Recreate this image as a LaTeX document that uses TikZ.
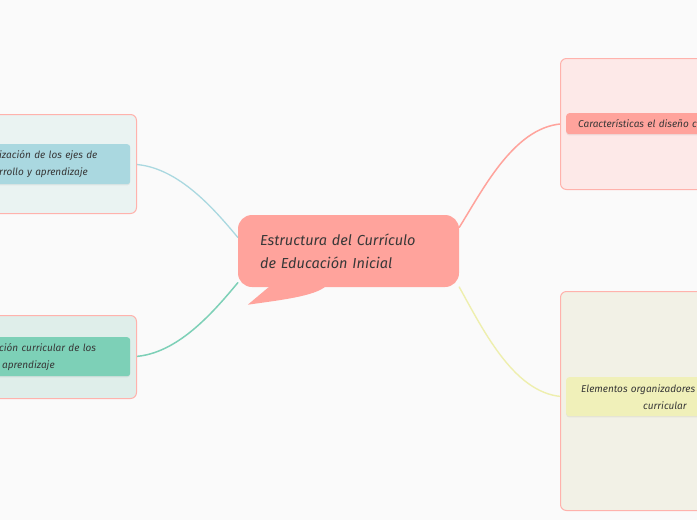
\documentclass[tikz,border=0pt]{standalone}
\usepackage{fontspec}
\setmainfont{Fira Sans}
\usetikzlibrary{calc,shadows}
\definecolor{bgcol}{HTML}{FAFAFA}
\definecolor{frame}{HTML}{FFB2AC}
\definecolor{tlfill}{HTML}{EAF3F2}
\definecolor{blfill}{HTML}{DFEEEA}
\definecolor{trfill}{HTML}{FDE9E8}
\definecolor{brfill}{HTML}{F2F1E6}
\definecolor{bluenode}{HTML}{AAD8E0}
\definecolor{greennode}{HTML}{7DD0B7}
\definecolor{salmon}{HTML}{FFA39C}
\definecolor{yellownode}{HTML}{F0F0B9}
\definecolor{yellowline}{HTML}{EEEFAE}
\definecolor{txt}{HTML}{383838}
\pgfdeclarelayer{bglayer}
\pgfdeclarelayer{connlayer}
\pgfsetlayers{bglayer,connlayer,main}
\begin{document}
\begin{tikzpicture}[x=1pt,y=-1pt,
  outerbox/.style={draw=frame, line width=1pt, rounded corners=6pt, inner sep=0pt, anchor=north west},
  topicbox/.style={rounded corners=3pt, anchor=north west, align=left, text=txt,
     inner ysep=2pt, font=\itshape\fontsize{10}{17}\selectfont,
     drop shadow={opacity=0.12, shadow xshift=0pt, shadow yshift=-1.2pt}},
  centerbox/.style={fill=salmon, rounded corners=14pt, text=txt, align=left,
     minimum width=221pt, minimum height=72pt, text width=177pt, inner xsep=22pt,
     font=\itshape\fontsize{14.5}{23}\selectfont},
  link/.style={line cap=round}
]
\begin{pgfonlayer}{bglayer}
\fill[bgcol] (0,0) rectangle (697,520);
\end{pgfonlayer}
\useasboundingbox (0,0) rectangle (697,520);
\clip (0,0) rectangle (697,520);

% outer frames
\node[outerbox, fill=tlfill, minimum width=146pt, minimum height=99pt] (tlo) at (-10,114) {};
\node[outerbox, fill=blfill, minimum width=146pt, minimum height=83pt] (blo) at (-10,315) {};
\node[outerbox, fill=trfill, minimum width=150pt, minimum height=131pt] (tro) at (560,58) {};
\node[outerbox, fill=brfill, minimum width=150pt, minimum height=219pt] (bro) at (560,291) {};

% topic nodes
\node[topicbox, fill=bluenode, text width=121pt, inner xsep=10pt, minimum height=40pt] (tli) at (-11,144)
  {ización de los ejes de\\rrollo y aprendizaje};
\node[topicbox, fill=greennode, text width=121pt, inner xsep=10pt, minimum height=39pt] (bli) at (-11,337)
  {ción curricular de los\\\hspace*{3pt}aprendizaje};
\node[topicbox, fill=salmon, text width=200pt, inner xsep=12pt, minimum height=21pt, inner ysep=1pt,
      font=\itshape\fontsize{10}{12}\selectfont] (tri) at (566,113)
  {Características el diseño c};
\node[topicbox, fill=yellownode, text width=200pt, inner xsep=15pt, minimum height=39pt] (bri) at (566,377)
  {Elementos organizadores\\\hspace*{62pt}curricular};

% central node
\node[centerbox] (c) at (348.5,251) {Estructura del Currículo\\de Educación Inicial};
\fill[salmon] ($(c.south west)+(32,-1)$) -- ($(c.south west)+(10,17.5)$)
  .. controls ($(c.south west)+(42,13)$) and ($(c.south west)+(77,9)$) .. ($(c.south west)+(88,-1)$) -- cycle;

% connectors
\begin{pgfonlayer}{connlayer}
\draw[link, bluenode, line width=1.3pt] (tli.east) .. controls +(45,0) and +(-25,-30) .. (c.173);
\draw[link, greennode, line width=1.5pt] (bli.east) .. controls +(45,0) and +(-25,30) .. (c.196);
\draw[link, salmon, line width=1.5pt] (c.12) .. controls +(25,-40) and +(-50,0) .. (tri.west);
\draw[link, yellowline, line width=1.4pt] (c.342) .. controls +(25,45) and +(-50,0) .. (bri.west);
\end{pgfonlayer}
\end{tikzpicture}
\end{document}
